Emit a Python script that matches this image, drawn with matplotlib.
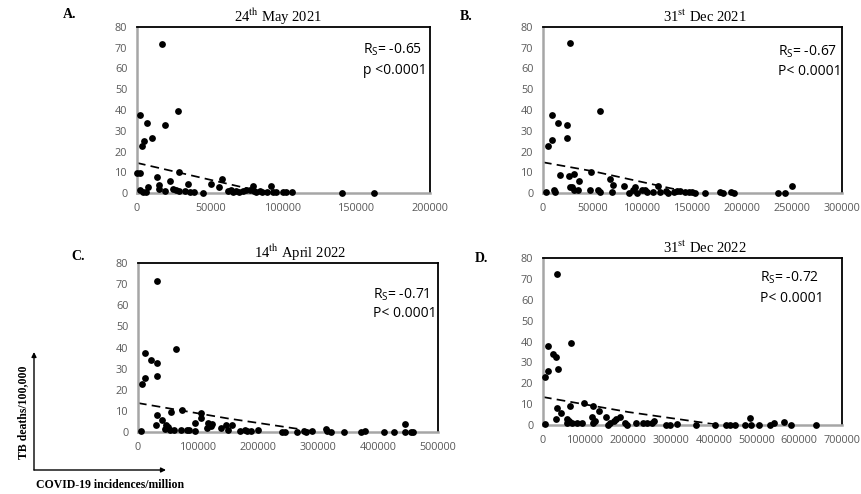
import matplotlib
matplotlib.use("Agg")
import matplotlib.pyplot as plt

plt.rcParams['font.family'] = ['Open Sans', 'DejaVu Sans']
plt.rcParams['mathtext.fontset'] = 'custom'
plt.rcParams['mathtext.rm'] = 'Open Sans'

# --- data ---
a_x = [17100, 2000, 6600, 27800, 19400, 10300, 4600, 3400, 0, 2000, 29000, 13700, 22800, 15300,
       14800, 7800, 2300, 3900, 6200, 19400, 24900, 26700, 28500, 32600, 34700, 36300, 38800,
       45000, 50700, 55900, 57800, 62100, 63900, 65500, 67800, 69600, 72400, 74700, 77400, 79200,
       80000, 81500, 83800, 85400, 89000, 91800, 92900, 95200, 99800, 102000, 105900, 139700, 161900]
a_y = [72, 37.6, 33.6, 39.5, 32.6, 26.6, 25.3, 22.7, 9.5, 9.5, 10.2, 7.8, 5.6, 3.8,
       1.9, 3.0, 1.3, 0.3, 0.3, 1.1, 1.9, 1.6, 0.8, 0.8, 4.3, 0.3, 0.3,
       0, 4.3, 3.0, 6.7, 0.8, 1.6, 0.3, 0.8, 0.3, 0.8, 1.3, 1.3, 3.2,
       0.8, 0.3, 0.8, 0.3, 0.3, 3.5, 0.3, 0.3, 0.3, 0.3, 0.5, 0.2, 0.2]

b_x = [26800, 9000, 14700, 57500, 24100, 24100, 9000, 5000, 17400, 25700, 30800, 35800, 48500,
       67500, 70200, 80900, 26800, 29000, 31400, 35100, 3300, 10700, 12400, 46800, 54800, 57500,
       69200, 85900, 90300, 92000, 94300, 99300, 102700, 104300, 110300, 115000, 117000, 123700,
       125000, 131100, 134400, 137100, 142800, 146100, 149500, 152200, 162200, 177200, 180500,
       188600, 192000, 235800, 242500, 249800]
b_y = [72.3, 37.8, 33.7, 39.7, 32.8, 26.5, 25.4, 22.8, 8.8, 8.0, 9.2, 5.6, 10.3,
       6.7, 4.0, 3.5, 2.9, 2.9, 1.6, 1.6, 0.3, 1.6, 0.3, 1.6, 1.3, 0.3,
       0.5, 0.2, 1.6, 2.9, 0.2, 1.6, 1.6, 0.3, 0.3, 3.5, 0.3, 0.8,
       0.2, 0.3, 0.8, 1.1, 0.3, 0.3, 0.3, 0.2, 0.2, 0.5, 0.2,
       0.5, 0.2, 0.2, 0.2, 3.5]

c_x = [32200, 11100, 22200, 31700, 62800, 32200, 11100, 6700, 31700, 40600, 55600, 73900, 105600,
       104400, 95600, 116700, 124000, 30600, 47200, 50000, 44400, 52800, 59400, 72200, 81700,
       85000, 94400, 4400, 115000, 121000, 138900, 146100, 150000, 157200, 169400, 177800, 181700,
       188900, 200000, 240200, 245800, 265400, 276600, 280600, 290500, 312800, 315700, 322200,
       343600, 371500, 377800, 410700, 427400, 444200, 444200, 455000, 459000]
c_y = [71.6, 37.6, 34.2, 32.6, 39.4, 26.6, 25.7, 22.8, 8.2, 5.9, 9.5, 10.3, 9.0,
       6.8, 4.3, 4.3, 3.8, 3.2, 3.5, 2.4, 1.6, 1.1, 0.8, 1.1, 1.1,
       0.8, 0.3, 0.5, 1.9, 2.9, 1.9, 3.5, 0.8, 3.5, 0.3, 0.8, 0.3,
       0.5, 0.8, 0.2, 0.2, 0.2, 0.5, 0.2, 0.5, 1.6, 0.3, 0.2,
       0.2, 0.2, 0.6, 0.2, 0.2, 3.6, 0.2, 0.2, 0.2]

d_x = [32800, 11700, 23400, 31200, 66300, 34300, 11700, 5500, 32800, 42900, 64000, 95200, 117000,
       130300, 114700, 148300, 181000, 31200, 56200, 60100, 56200, 67900, 79600, 91300, 3900,
       117000, 122500, 151300, 157500, 165300, 171600, 192700, 196600, 218500, 234100, 243500,
       255200, 259100, 288700, 298100, 313700, 359000, 401900, 429200, 438600, 450300, 473700,
       483900, 487000, 504900, 532200, 541600, 563500, 580600, 639900]
d_y = [72.3, 37.9, 34.2, 32.6, 39.5, 26.7, 25.7, 23.0, 8.2, 5.9, 9.3, 10.4, 9.0,
       6.9, 4.0, 4.0, 3.7, 2.9, 2.9, 1.8, 0.8, 1.0, 0.8, 0.8, 0.5,
       0.8, 2.1, 0.2, 0.8, 1.8, 2.9, 0.8, 0.2, 0.8, 0.8, 0.8,
       0.8, 1.8, 0.2, 0.2, 0.5, 0.2, 0.2, 0.2, 0.2, 0.2, 0.2,
       3.4, 0.2, 0.2, 0.2, 0.8, 1.6, 0.2, 0.2]

# dashed trend lines (Excel style)
a_trend_x, a_trend_y = [0, 40000, 78000], [14.5, 8.0, 1.8]
b_trend_x, b_trend_y = [0, 50000, 145000], [14.8, 10.5, 0.5]
c_trend_x, c_trend_y = [0, 150000, 290000], [13.7, 6.4, 0.5]
d_trend_x, d_trend_y = [0, 200000, 400000], [13.4, 6.2, 0.4]

titles = [r"24$^{\mathrm{th}}$ May 2021", r"31$^{\mathrm{st}}$ Dec 2021",
          r"14$^{\mathrm{th}}$ April 2022", r"31$^{\mathrm{st}}$ Dec 2022"]
rs_vals = ["-0.65", "-0.67", "-0.71", "-0.72"]
p_texts = ["p <0.0001", "P< 0.0001", "P< 0.0001", "P< 0.0001"]
letters = ["A.", "B.", "C.", "D."]
x_max = [200000, 300000, 500000, 700000]
x_step = [50000, 50000, 100000, 100000]

W, H = 862, 494
fig = plt.figure(figsize=(W / 100, H / 100), dpi=100)

# axes boxes in pixels (left, right, top, bottom)
boxes = [(137, 430, 27, 193), (543, 842, 27, 193), (138, 438, 263, 432), (543, 842, 258, 425)]
title_x = [0.48, 0.54, 0.54, 0.54]
text_pos = [(0.77, 0.86, 0.74), (0.786, 0.85, 0.73), (0.783, 0.81, 0.70), (0.726, 0.88, 0.76)]
letter_pos = [(70, 15), (466, 16), (78, 256), (481, 259)]

xs = [a_x, b_x, c_x, d_x]
ys = [a_y, b_y, c_y, d_y]
txs = [a_trend_x, b_trend_x, c_trend_x, d_trend_x]
tys = [a_trend_y, b_trend_y, c_trend_y, d_trend_y]

for i in range(4):
    l, r, t, b = boxes[i]
    ax = fig.add_axes([l / W, 1 - b / H, (r - l) / W, (b - t) / H])
    ax.scatter(xs[i], ys[i], s=24, color='black', zorder=3, clip_on=False, linewidths=0)
    ax.plot(txs[i], tys[i], color='black', lw=1.25, linestyle=(0, (5, 3)), zorder=2)
    ax.set_xlim(0, x_max[i])
    ax.set_ylim(0, 80)
    ax.set_xticks(range(0, x_max[i] + 1, x_step[i]))
    ax.set_yticks(range(0, 81, 10))
    ax.tick_params(length=0, labelsize=7.8, labelcolor='#595959', pad=7)
    ax.xaxis.set_major_formatter(plt.FuncFormatter(lambda v, p: f"{int(v)}"))
    for s in ['left', 'bottom']:
        ax.spines[s].set_color('#a6a6a6')
        ax.spines[s].set_linewidth(1.8)
    for s in ['top', 'right']:
        ax.spines[s].set_color('black')
        ax.spines[s].set_linewidth(1.3)

    ax.annotate(titles[i], xy=(title_x[i], 1), xycoords='axes fraction',
                xytext=(0, 7.5), textcoords='offset points', ha='center', va='center',
                fontsize=10.5, family='Liberation Serif', math_fontfamily='stix')
    tx, ty1, ty2 = text_pos[i]
    ax.text(tx, ty1, r"R$_{\mathrm{S}}$= " + rs_vals[i], transform=ax.transAxes,
            fontsize=10, va='center', ha='left')
    ax.text(tx, ty2, p_texts[i], transform=ax.transAxes, fontsize=10, va='center', ha='left')

    lx, ly = letter_pos[i]
    fig.text(lx / W, 1 - ly / H, letters[i], ha='center', va='center',
             fontsize=10, fontweight='bold', family='Liberation Serif')

# overall axis annotation (bottom-left)
over = fig.add_axes([0, 0, 1, 1])
over.set_xlim(0, W)
over.set_ylim(H, 0)
over.axis('off')
over.annotate("", xy=(34, 352), xytext=(34, 470),
              arrowprops=dict(arrowstyle='-|>', color='black', lw=1.0, mutation_scale=7,
                              shrinkA=0, shrinkB=0))
over.annotate("", xy=(166, 470), xytext=(34, 470),
              arrowprops=dict(arrowstyle='-|>', color='black', lw=1.0, mutation_scale=7,
                              shrinkA=0, shrinkB=0))
over.text(23, 412, "TB deaths/100,000", rotation=90, ha='center', va='center',
          fontsize=8.5, fontweight='bold', family='Liberation Serif')
over.text(110, 485, "COVID-19 incidences/million", ha='center', va='center',
          fontsize=8.5, fontweight='bold', family='Liberation Serif')

fig.savefig("out.png", dpi=100)
